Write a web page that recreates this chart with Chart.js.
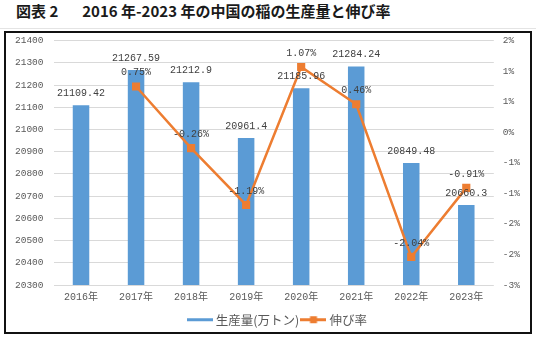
<!DOCTYPE html>
<html>
<head>
<meta charset="utf-8">
<script src="https://cdn.jsdelivr.net/npm/chart.js@4.4.1/dist/chart.umd.min.js"></script>
<style>
  html, body { margin: 0; padding: 0; background: #fff; }
  body { width: 536px; height: 341px; position: relative; overflow: hidden; }
  #title {
    position: absolute; left: 16px; top: 1px;
    font-family: 'Noto Sans CJK JP', 'Noto Sans', sans-serif;
    font-weight: bold; font-size: 15px; color: #1a1a1a;
    white-space: pre; line-height: 20px;
  }
  #title span { margin-left: 24px; }
  #rule { position: absolute; left: 0; top: 28px; width: 536px; height: 1px; background: #e4e4e4; }
  #box {
    position: absolute; left: 4px; top: 31px; width: 524px; height: 299px;
    border: 2px solid #111;
  }
  #wrap { position: absolute; left: 0; top: 0; width: 523px; height: 298px; }
</style>
</head>
<body>
<div id="title">図表 2<span>2016 年-2023 年の中国の稲の生産量と伸び率</span></div>
<div id="rule"></div>
<div id="box"><div id="wrap"><canvas id="riceChart"></canvas></div></div>
<script>
// chart data
const years = ['2016年', '2017年', '2018年', '2019年', '2020年', '2021年', '2022年', '2023年'];
const production = [21109.42, 21267.59, 21212.9, 20961.4, 21185.96, 21284.24, 20849.48, 20660.3];
const growthRate = [null, 0.75, -0.26, -1.19, 1.07, 0.46, -2.04, -0.91];
const prodAxis = { min: 20300, max: 21400, step: 100 };
const rateAxis = { min: -2.5, max: 1.5, step: 0.5 };

const BLUE = '#5B9BD5';
const ORANGE = '#ED7D31';
const numFont = "'Liberation Mono', 'Noto Sans CJK JP', monospace";

// little images for the legend markers
function legendMark(kind) {
  const c = document.createElement('canvas');
  c.width = 26; c.height = 9;
  const g = c.getContext('2d');
  g.fillStyle = kind === 'bar' ? BLUE : ORANGE;
  g.fillRect(0, 3, 26, 3);
  if (kind !== 'bar') g.fillRect(9.5, 1, 7, 7);
  return c;
}

// value labels above bars and points
const valueLabels = {
  id: 'valueLabels',
  afterDatasetsDraw(chart) {
    const ctx = chart.ctx;
    ctx.save();
    ctx.font = '10px ' + numFont;
    ctx.fillStyle = '#404040';
    ctx.textAlign = 'center';
    ctx.textBaseline = 'middle';
    chart.getDatasetMeta(0).data.forEach((bar, i) => {
      ctx.fillText(String(production[i]), bar.x, bar.y - 12);
    });
    chart.getDatasetMeta(1).data.forEach((pt, i) => {
      if (growthRate[i] === null) return;
      ctx.fillText(growthRate[i].toFixed(2) + '%', pt.x, pt.y - 14);
    });
    ctx.restore();
  }
};

// nudge the legend a bit right, as in the original
const legendShift = {
  id: 'legendShift',
  afterLayout(chart) {
    if (chart.legend) chart.legend.left += 22;
  }
};

const ctx = document.getElementById('riceChart');
new Chart(ctx, {
  type: 'bar',
  data: {
    labels: years,
    datasets: [
      {
        type: 'bar',
        label: '生産量(万トン)',
        data: production,
        backgroundColor: BLUE,
        yAxisID: 'y',
        categoryPercentage: 1.0,
        barPercentage: 0.3,
        order: 2
      },
      {
        type: 'line',
        label: '伸び率',
        data: growthRate,
        borderColor: ORANGE,
        backgroundColor: ORANGE,
        borderWidth: 2.5,
        pointStyle: 'rect',
        pointRadius: 4,
        pointBackgroundColor: ORANGE,
        pointBorderColor: ORANGE,
        tension: 0,
        yAxisID: 'y1',
        order: 1
      }
    ]
  },
  plugins: [valueLabels, legendShift],
  options: {
    responsive: true,
    maintainAspectRatio: false,
    animation: false,
    layout: { padding: { top: 7.7, bottom: -5, left: 0, right: 0 } },
    plugins: {
      tooltip: { enabled: false },
      legend: {
        position: 'bottom',
        labels: {
          usePointStyle: true,
          pointStyleWidth: 19.5,
          padding: 4.5,
          color: '#595959',
          font: { family: "'Noto Sans CJK JP', sans-serif", size: 12.5 },
          generateLabels: () => [
            { text: '生産量(万トン)', pointStyle: legendMark('bar'), fontColor: '#595959', lineWidth: 0, strokeStyle: 'transparent', fillStyle: BLUE, datasetIndex: 0 },
            { text: '伸び率', pointStyle: legendMark('line'), fontColor: '#595959', lineWidth: 0, strokeStyle: 'transparent', fillStyle: ORANGE, datasetIndex: 1 }
          ]
        }
      }
    },
    scales: {
      x: {
        grid: { display: false, drawTicks: false },
        border: { display: false },
        ticks: { color: '#595959', padding: 6, font: { family: numFont, size: 10 } },
        afterFit: (s) => { s.height = 24; }
      },
      y: {
        position: 'left',
        min: prodAxis.min,
        max: prodAxis.max,
        ticks: {
          stepSize: prodAxis.step, color: '#595959', padding: 0,
          font: { family: numFont, size: 9.5 },
          callback: (v) => String(v)
        },
        grid: { color: '#D9D9D9', drawTicks: true, tickLength: 10, tickColor: 'rgba(0,0,0,0)' },
        border: { display: false },
        afterFit: (s) => { s.width = 47.5; }
      },
      y1: {
        position: 'right',
        min: rateAxis.min,
        max: rateAxis.max,
        ticks: {
          stepSize: rateAxis.step,
          color: '#595959',
          padding: 0,
          font: { family: numFont, size: 9.5 },
          callback: (v) => (Math.sign(v) * Math.round(Math.abs(v))) + '%'
        },
        grid: { display: true, drawOnChartArea: false, drawTicks: true, tickLength: 9, tickColor: 'rgba(0,0,0,0)' },
        border: { display: false },
        afterFit: (s) => { s.width = 35.2; }
      }
    }
  }
});
</script>
</body>
</html>
